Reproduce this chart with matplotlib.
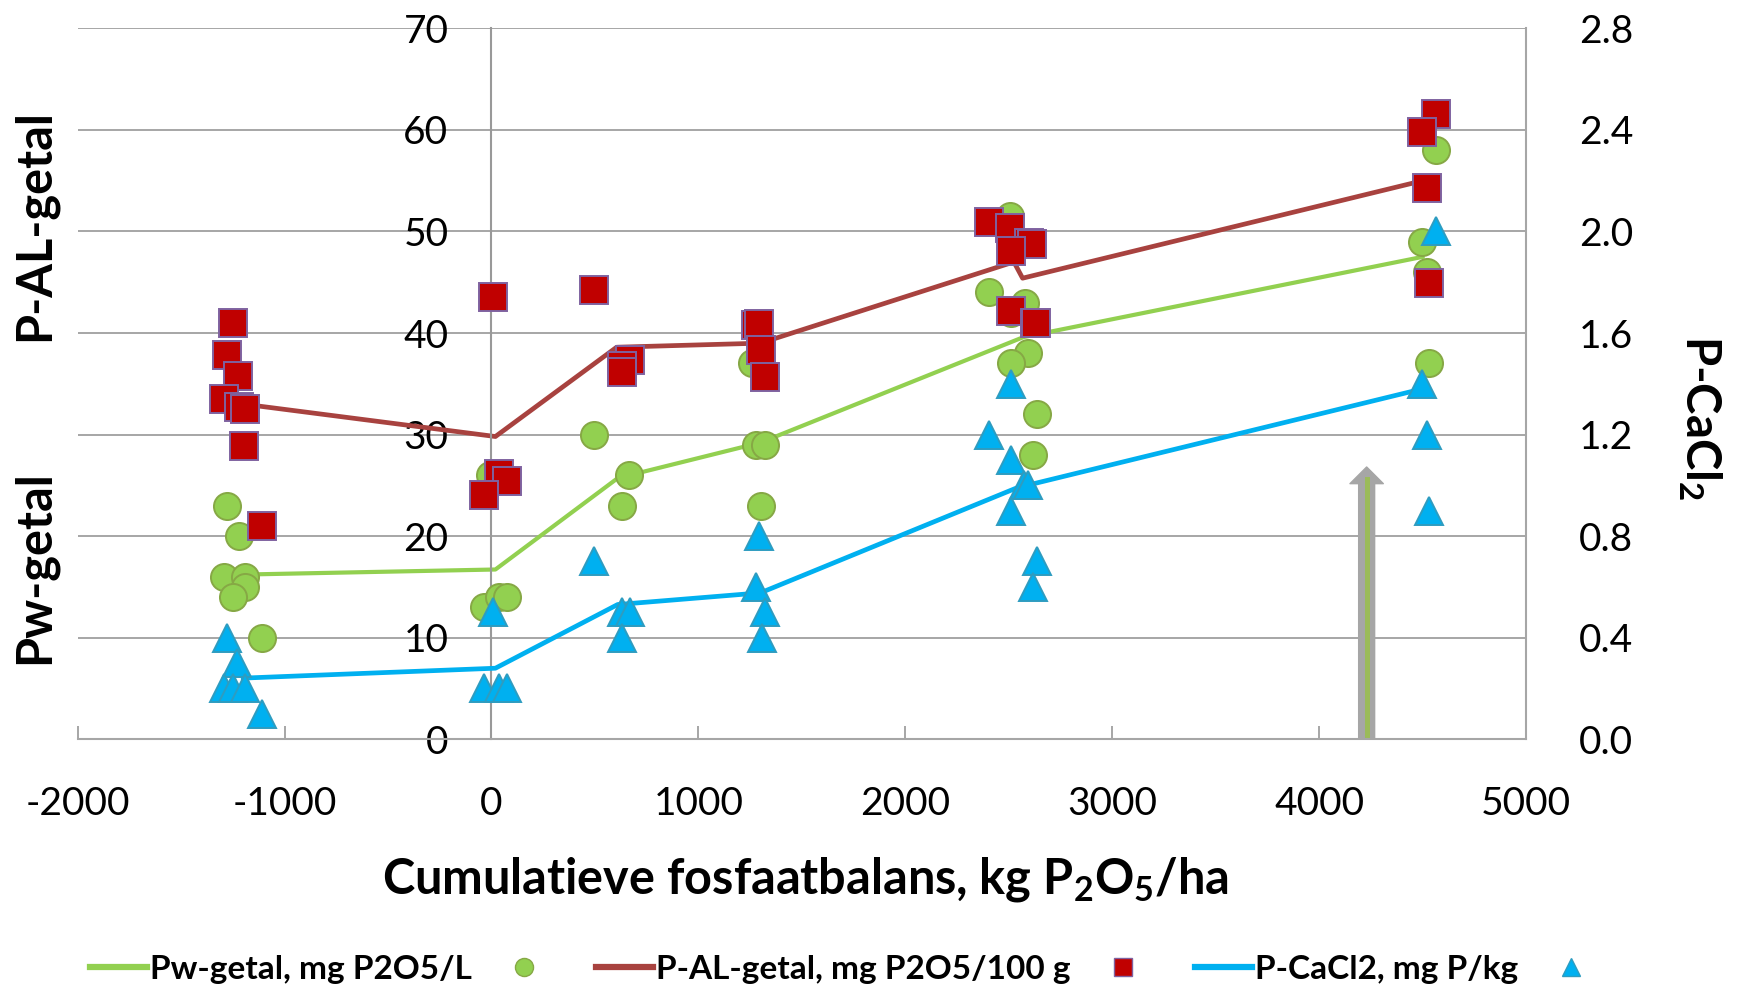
import matplotlib
matplotlib.use("Agg")
import matplotlib.pyplot as plt
from matplotlib.lines import Line2D
from matplotlib.ticker import FormatStrFormatter, MultipleLocator

plt.rcParams['font.family'] = ['Lato', 'DejaVu Sans']
plt.rcParams['axes.unicode_minus'] = False

# Pw-getal, mg P2O5/L (circles)
pw_x = [-1280, -1220, -1295, -1190, -1190, -1250, -1110,
        -5, -37, 35, 76,
        495, 664, 632,
        1261, 1277, 1322, 1305,
        2508, 2406, 2579, 2511, 2595, 2511, 2635, 2616,
        4567, 4498, 4522, 4532]
pw_y = [23, 20, 16, 16, 15, 14, 10,
        26, 13, 14, 14,
        30, 26, 23,
        37, 29, 29, 23,
        51.5, 44, 43, 42, 38, 37, 32, 28,
        58, 49, 46, 37]

# P-AL-getal, mg P2O5/100 g (squares)
pal_x = [-1251, -1279, -1227, -1295, -1222, -1190, -1195, -1108,
         8, 35, 76, -34,
         495, 668, 632, 632,
         1277, 1293, 1305, 1321,
         2406, 2508, 2600, 2612, 2511, 2511, 2625, 2632,
         4567, 4498, 4522, 4532]
pal_y = [41, 37.8, 35.8, 33.5, 32.7, 32.5, 28.9, 21.0,
         43.5, 26.1, 25.4, 24.0,
         44.2, 37.3, 36.7, 36.2,
         40.8, 40.9, 38.3, 35.7,
         50.9, 50.3, 48.9, 48.8, 48.1, 42.2, 41.0, 41.0,
         61.6, 59.8, 54.3, 44.9]

# P-CaCl2, mg P/kg (triangles, right axis)
ca_x = [-1279, -1230, -1295, -1247, -1190, -1108,
        8, -37, 35, 76,
        495, 632, 668, 632,
        1293, 1277, 1322, 1306,
        2511, 2406, 2511, 2575, 2595, 2511, 2637, 2616,
        4567, 4498, 4522, 4532]
ca_y = [0.40, 0.30, 0.20, 0.20, 0.20, 0.10,
        0.50, 0.20, 0.20, 0.20,
        0.70, 0.50, 0.50, 0.40,
        0.80, 0.60, 0.50, 0.40,
        1.40, 1.20, 1.10, 1.00, 1.00, 0.90, 0.70, 0.60,
        2.00, 1.40, 1.20, 0.90]

# mean lines
pw_line_x = [-1200, 19, 610, 1300, 2572, 4500]
pw_line_y = [16.2, 16.7, 25.7, 29.2, 39.6, 47.5]
pal_line_x = [-1200, 19, 605, 1300, 2525, 2567, 4500]
pal_line_y = [33.0, 29.8, 38.6, 39.0, 47.0, 45.4, 55.0]
ca_line_x = [-1200, 19, 610, 1300, 2540, 4500]
ca_line_y = [0.24, 0.279, 0.53, 0.576, 0.99, 1.38]

arrow_x = 4230
arrow_top = 26.8

GREEN = '#92D050'
GREEN_EDGE = '#86A845'
RED = '#C00000'
RED_EDGE = '#7F62A0'
PAL_LINE = '#A8423F'
BLUE = '#00B0F0'
BLUE_EDGE = '#2E9CC0'
GRID = '#A6A6A6'

fig = plt.figure(figsize=(17.38, 9.86), dpi=100)
ax = fig.add_axes([0.0447, 0.2505, 0.8333, 0.7206])
ax.set_xlim(-2000, 5000)
ax.set_ylim(0, 70)
ax2 = ax.twinx()
ax2.set_ylim(0, 2.8)

# axes look (Excel style)
ax.spines['left'].set_position(('data', 0))
ax.spines['left'].set_color('#999999')
ax.spines['left'].set_linewidth(1.5)
ax.spines['bottom'].set_color(GRID)
ax.spines['bottom'].set_linewidth(1.5)
ax.spines['top'].set_visible(False)
ax.spines['right'].set_visible(False)
for s in ['left', 'top', 'bottom']:
    ax2.spines[s].set_visible(False)
ax2.spines['right'].set_color(GRID)
ax2.spines['right'].set_linewidth(1.5)
ax.yaxis.set_major_locator(MultipleLocator(10))
ax.xaxis.set_major_locator(MultipleLocator(1000))
ax2.yaxis.set_major_locator(MultipleLocator(0.4))
ax2.yaxis.set_major_formatter(FormatStrFormatter('%.1f'))
ax.grid(axis='y', color=GRID, lw=1.4)
ax.set_axisbelow(True)
ax.tick_params(axis='y', length=0, pad=31, labelsize=28)
ax.tick_params(axis='x', direction='in', length=9.5, color=GRID, width=1.4,
               pad=34, labelsize=28)
ax2.tick_params(axis='y', length=0, pad=38, labelsize=28)

# data
ax.plot(pw_line_x, pw_line_y, color=GREEN, lw=3.0, zorder=2)
ax.plot(pal_line_x, pal_line_y, color=PAL_LINE, lw=3.4, zorder=2)
ax.plot(pw_x, pw_y, 'o', ms=19.5, mfc=GREEN, mec=GREEN_EDGE, mew=1.4, zorder=3)
ax.plot(pal_x, pal_y, 's', ms=19.5, mfc=RED, mec=RED_EDGE, mew=1.4, zorder=4)
ax2.plot(ca_line_x, ca_line_y, color=BLUE, lw=3.4, zorder=2)
ax2.plot(ca_x, ca_y, '^', ms=19.5, mfc=BLUE, mec=BLUE_EDGE, mew=1.4, zorder=3)

# arrow
ax.annotate('', xy=(arrow_x, arrow_top), xytext=(arrow_x, 0),
            arrowprops=dict(arrowstyle='simple,head_length=12,head_width=24,tail_width=11.5',
                            mutation_scale=1, color='#A6A6A6', shrinkA=0, shrinkB=0),
            zorder=1)
ax.plot([arrow_x, arrow_x], [0, arrow_top - 1.2], color='#9BBB59', lw=3.6, zorder=1.5)

# axis titles
fig.text(34 / 1738, 1 - 225 / 986, 'P-AL-getal', rotation=90, fontsize=35,
         fontweight='bold', ha='center', va='center')
fig.text(34 / 1738, 1 - 567 / 986, 'Pw-getal', rotation=90, fontsize=35,
         fontweight='bold', ha='center', va='center')
fig.text(1700 / 1738, 1 - 418 / 986, r'P-CaCl$\mathregular{_2}$', rotation=270,
         fontsize=34, fontweight='bold', ha='center', va='center')
fig.text(806 / 1738, 1 - 880 / 986,
         r'Cumulatieve fosfaatbalans, kg P$\mathregular{_2}$O$\mathregular{_5}$/ha',
         fontsize=35, fontweight='bold', ha='center', va='center')

# legend (marker entries carry a blank label, as in the Excel legend)
handles = [Line2D([], [], color=GREEN, lw=4.5),
           Line2D([], [], ls='', marker='o', ms=13, mfc=GREEN, mec=GREEN_EDGE),
           Line2D([], [], color=PAL_LINE, lw=4.5),
           Line2D([], [], ls='', marker='s', ms=13, mfc=RED, mec=RED_EDGE),
           Line2D([], [], color=BLUE, lw=4.5),
           Line2D([], [], ls='', marker='^', ms=13, mfc=BLUE, mec=BLUE_EDGE)]
labels = ['Pw-getal, mg P2O5/L', '  ', 'P-AL-getal, mg P2O5/100 g', '  ',
          'P-CaCl2, mg P/kg', '  ']
fig.legend(handles, labels, ncol=6, loc='center', bbox_to_anchor=(0.4915, 1 - 969 / 986),
           frameon=False, prop={'size': 24, 'weight': 'bold'},
           handlelength=1.7, handletextpad=0.1, columnspacing=0.72)

fig.savefig('out.png', dpi=100)
